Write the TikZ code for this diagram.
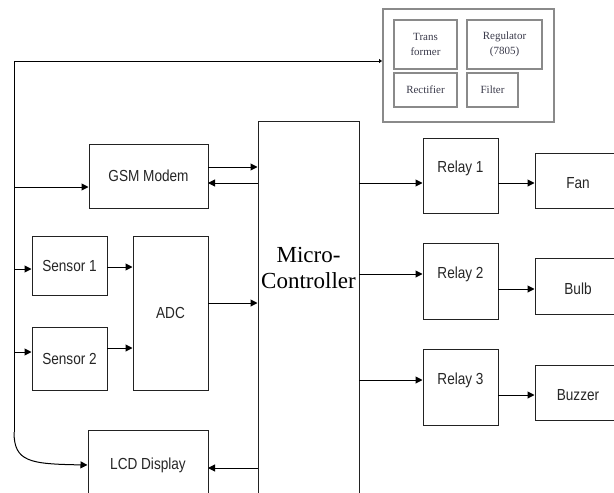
\documentclass[tikz,border=0pt]{standalone}
\usepackage{fontspec}
\usetikzlibrary{arrows.meta}
\newfontfamily\sfn[FakeStretch=0.85]{Liberation Sans}
\newfontfamily\srf{Liberation Serif}
\definecolor{boxline}{HTML}{222222}
\definecolor{pgray}{HTML}{8A8A8A}
\definecolor{ptext}{HTML}{3A3A4A}
\begin{document}
\begin{tikzpicture}[x=1pt,y=-1pt,
  blk/.style={draw=boxline,line width=1pt,inner sep=0pt,fill=white,
    font=\sfn\fontsize{16}{18}\selectfont,text=black!85},
  pbox/.style={draw=pgray,line width=1.4pt,inner sep=0pt,align=center,
    font=\srf\fontsize{11}{15}\selectfont,text=ptext},
  arr/.style={line width=1pt,-{Triangle[length=7pt,width=7pt]}},
  ln/.style={line width=1pt}]
\clip (0,0) rectangle (614,493);
\fill[white] (0,0) rectangle (614,493);
% power supply
\node[draw=pgray,line width=2pt,minimum width=171pt,minimum height=113pt,inner sep=0pt] (power) at (468.5,65.5) {};
\node[pbox,minimum width=63pt,minimum height=49pt] (trans) at (425.5,44.5) {Trans\\former};
\node[pbox,minimum width=75pt,minimum height=49pt] (reg) at (504.5,44.5) {Regulator\\(7805)};
\node[pbox,minimum width=63pt,minimum height=34pt] (rect) at (425.5,90) {Rectifier};
\node[pbox,minimum width=51pt,minimum height=34pt] (filt) at (492.5,90) {Filter};
% blocks
\node[blk,minimum width=119pt,minimum height=64pt] (gsm) at (148.5,176) {GSM Modem};
\node[blk,minimum width=75pt,minimum height=59pt] (s1) at (69.5,265.5) {Sensor 1};
\node[blk,minimum width=75pt,minimum height=63pt] (s2) at (69.5,358.5) {Sensor 2};
\node[blk,minimum width=75pt,minimum height=154pt] (adc) at (170.5,313) {ADC};
\node[blk,minimum width=120pt,minimum height=70pt] (lcd) at (148,465) {LCD Display};
\node[blk,minimum width=101pt,minimum height=419pt,align=center,
  font=\srf\fontsize{23}{29}\selectfont,text=black] (mc) at (308.5,330.5)
  {\raisebox{60.5pt}[\height][\depth]{\begin{tabular}{@{}c@{}}Micro-\\[-3pt]Controller\end{tabular}}};
\node[blk,minimum width=75pt,minimum height=75pt] (r1) at (460.5,175.5) {\raisebox{7pt}[\height][\depth]{Relay 1}};
\node[blk,minimum width=75pt,minimum height=76pt] (r2) at (460.5,281) {\raisebox{7pt}[\height][\depth]{Relay 2}};
\node[blk,minimum width=75pt,minimum height=76pt] (r3) at (460.5,387) {\raisebox{7pt}[\height][\depth]{Relay 3}};
\node[blk,minimum width=86pt,minimum height=55pt] (fan) at (578,180.5) {\raisebox{-2.5pt}[\height][\depth]{Fan}};
\node[blk,minimum width=86pt,minimum height=56pt] (bulb) at (578,286) {\raisebox{-3pt}[\height][\depth]{Bulb}};
\node[blk,minimum width=86pt,minimum height=55pt] (buzz) at (578,392.5) {\raisebox{-2.5pt}[\height][\depth]{Buzzer}};
% left bus
\coordinate (tl) at (14,61);
\coordinate (lb) at (14,432);
\coordinate (g1) at (14,187);
\coordinate (c1) at (14,269);
\coordinate (c2) at (14,352);
\draw[ln,-{Triangle[length=3pt,width=4pt]}] (lb) -- (tl) -- (tl -| power.west);
\draw[arr] (lb) .. controls (14,462) and (30,464) .. (lcd.west);
\draw[arr] (g1) -- (g1 -| gsm.west);
\draw[arr] (c1) -- (c1 -| s1.west);
\draw[arr] (c2) -- (c2 -| s2.west);
% gsm <-> mc
\coordinate (gm1) at (208,167);
\coordinate (gm2) at (208,183);
\draw[arr] (gm1) -- (gm1 -| mc.west);
\draw[arr] (gm2 -| mc.west) -- (gm2);
% sensors -> adc -> mc
\coordinate (sa1) at (107,267);
\coordinate (sa2) at (107,348);
\coordinate (am) at (208,303);
\draw[arr] (sa1) -- (sa1 -| adc.west);
\draw[arr] (sa2) -- (sa2 -| adc.west);
\draw[arr] (am) -- (am -| mc.west);
% mc -> lcd
\coordinate (ml) at (208,468);
\draw[arr] (ml -| mc.west) -- (ml);
% mc -> relays
\coordinate (mr1) at (359,183);
\coordinate (mr2) at (359,274);
\coordinate (mr3) at (359,380);
\draw[arr] (mr1) -- (mr1 -| r1.west);
\draw[arr] (mr2) -- (mr2 -| r2.west);
\draw[arr] (mr3) -- (mr3 -| r3.west);
% relays -> loads
\coordinate (ro1) at (498,183);
\coordinate (ro2) at (498,289);
\coordinate (ro3) at (498,395);
\draw[arr] (ro1) -- (ro1 -| fan.west);
\draw[arr] (ro2) -- (ro2 -| bulb.west);
\draw[arr] (ro3) -- (ro3 -| buzz.west);
\end{tikzpicture}
\end{document}
